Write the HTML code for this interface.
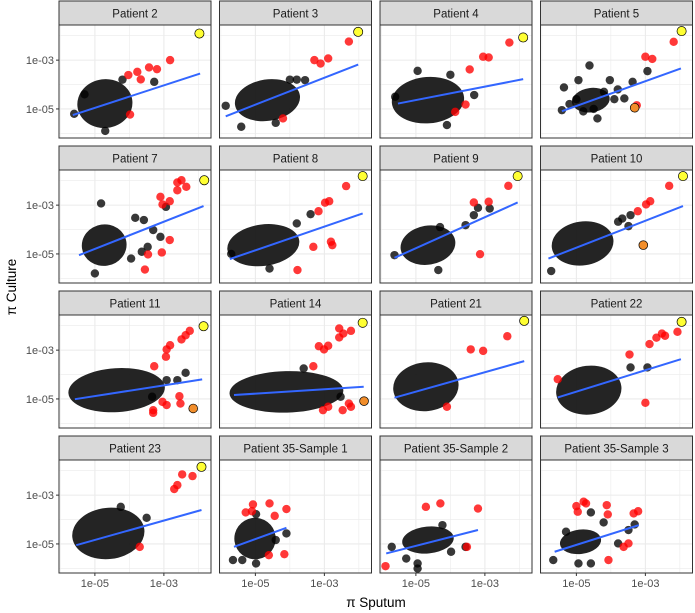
<!DOCTYPE html>
<html><head><meta charset="utf-8"><style>
html,body{margin:0;padding:0;background:#fff;}
svg{display:block;font-family:"Liberation Sans",sans-serif;}
</style></head><body>
<svg id="chart" width="695" height="613" viewBox="0 0 695 613" xmlns="http://www.w3.org/2000/svg"></svg>
<script>
// ---- data (log10 values) ----
const panelTitles = ["Patient 2","Patient 3","Patient 4","Patient 5","Patient 7","Patient 8","Patient 9","Patient 10","Patient 11","Patient 14","Patient 21","Patient 22","Patient 23","Patient 35-Sample 1","Patient 35-Sample 2","Patient 35-Sample 3"];
// dense core of black points: [cx, cy, rx, ry] in log10 units
const clouds = [
[-4.71,-4.78,0.8,1.0],[-4.65,-4.64,0.95,0.85],[-4.65,-4.64,1.05,0.95],[-4.58,-4.64,0.55,0.5],
[-4.73,-4.64,0.65,0.85],[-4.77,-4.64,1.05,0.85],[-4.65,-4.64,0.8,0.8],[-4.82,-4.57,0.9,0.9],
[-4.37,-4.64,1.4,0.9],[-4.10,-4.71,1.65,0.85],[-4.71,-4.50,0.95,1.0],[-4.64,-4.64,0.95,1.0],
[-4.61,-4.57,1.05,1.05],[-5.01,-4.78,0.6,0.85],[-4.65,-4.84,0.75,0.55],[-4.88,-4.91,0.6,0.5]];
const blackPts = [
[[-3.28,-3.89],[-5.6,-5.2],[-4.7,-5.9],[-4.2,-3.8],[-5.3,-4.4]],
[[-5.86,-4.87],[-5.41,-5.73],[-3.56,-3.82],[-4.41,-5.57],[-4.0,-3.8],[-3.8,-3.8]],
[[-4.95,-3.44],[-3.31,-4.43],[-4.10,-5.66],[-5.6,-4.5],[-4.0,-3.6]],
[[-4.62,-3.22],[-2.94,-3.45],[-5.36,-4.12],[-4.94,-3.82],[-4.03,-3.82],[-3.61,-4.57],[-5.42,-5.05],[-4.39,-5.39],[-3.37,-3.89],[-5.0,-4.6],[-4.2,-4.3],[-3.9,-4.6],[-4.8,-5.1],[-5.2,-4.8],[-4.5,-5.0],[-3.8,-4.2]],
[[-4.82,-2.93],[-5.0,-5.80],[-3.83,-3.52],[-3.58,-3.61],[-3.31,-4.02],[-3.10,-4.30],[-2.94,-3.07],[-3.64,-4.91],[-3.95,-5.19],[-3.47,-4.71]],
[[-3.40,-3.37],[-3.80,-3.75],[-4.59,-5.60],[-5.7,-5.0]],
[[-3.32,-3.41],[-3.20,-3.11],[-2.86,-3.14],[-3.56,-3.82],[-4.35,-5.66],[-5.62,-5.05],[-4.3,-3.9]],
[[-3.67,-3.55],[-3.43,-3.41],[-3.49,-3.86],[-3.79,-3.68],[-5.73,-5.70]],
[[-2.37,-3.93],[-2.61,-4.23],[-2.92,-4.23],[-3.34,-4.91]],
[[-3.60,-3.75],[-2.53,-4.91]],
[],
[[-3.43,-3.71],[-2.94,-3.71]],
[[-4.25,-3.48],[-3.50,-3.93]],
[[-5.65,-5.66],[-5.38,-5.66],[-4.98,-5.80],[-4.10,-4.57],[-4.98,-3.78],[-4.41,-4.84]],
[[-5.70,-5.12],[-5.28,-5.60],[-4.95,-5.80],[-4.95,-6.01],[-4.23,-4.23],[-3.56,-5.12],[-3.98,-5.32]],
[[-5.67,-5.66],[-5.30,-4.50],[-4.58,-3.71],[-4.21,-4.12],[-3.79,-4.98],[-3.49,-4.43],[-3.31,-4.20],[-4.58,-5.80],[-4.94,-5.80]]];
const redPts = [
[[-4.03,-3.61],[-3.77,-3.48],[-3.67,-3.79],[-3.43,-3.30],[-3.20,-3.37],[-2.82,-3.0],[-3.98,-5.23]],
[[-3.29,-3.0],[-3.11,-3.14],[-2.89,-2.93],[-2.29,-2.24],[-4.2,-5.39]],
[[-3.44,-3.38],[-3.05,-2.86],[-2.89,-2.89],[-2.29,-2.28],[-3.56,-4.82],[-3.86,-5.12]],
[[-3.0,-2.86],[-2.80,-2.95],[-2.18,-2.25],[-3.25,-4.85]],
[[-3.10,-2.66],[-3.04,-2.97],[-2.83,-2.84],[-2.61,-2.39],[-2.49,-1.98],[-2.35,-2.25],[-2.61,-2.07],[-2.83,-4.43],[-3.46,-5.02],[-3.06,-4.94],[-3.55,-5.64]],
[[-3.17,-3.25],[-2.98,-2.90],[-2.86,-2.84],[-2.37,-2.22],[-3.32,-4.71],[-2.81,-4.50],[-2.77,-4.64],[-3.78,-5.66]],
[[-3.32,-2.89],[-2.89,-2.86],[-2.32,-2.21],[-3.14,-5.01]],
[[-3.22,-3.25],[-2.98,-2.97],[-2.86,-2.84],[-2.31,-2.21]],
[[-3.28,-3.66],[-2.94,-3.27],[-2.92,-2.97],[-2.82,-2.80],[-2.49,-2.56],[-2.37,-2.39],[-2.25,-2.21],[-3.04,-5.12],[-2.92,-5.25],[-2.55,-4.89],[-2.52,-5.19],[-3.31,-5.46],[-3.31,-5.57]],
[[-3.32,-3.66],[-3.16,-2.84],[-3.01,-2.97],[-2.89,-2.82],[-2.57,-2.11],[-2.57,-2.48],[-2.45,-2.32],[-2.23,-2.21],[-3.04,-5.46],[-2.89,-5.32],[-2.47,-5.46],[-2.29,-5.19],[-2.23,-5.32]],
[[-3.41,-2.97],[-3.05,-3.03],[-2.35,-2.43],[-4.10,-5.32]],
[[-5.54,-4.19],[-3.46,-3.18],[-2.88,-2.75],[-2.68,-2.49],[-2.52,-2.32],[-2.43,-2.41],[-2.07,-2.25],[-3.0,-5.16]],
[[-2.70,-2.75],[-2.61,-2.59],[-2.47,-2.15],[-2.17,-2.22],[-3.70,-5.12]],
[[-5.28,-3.71],[-5.07,-3.38],[-5.10,-3.66],[-4.59,-3.34],[-4.44,-3.85],[-4.10,-3.57],[-4.61,-5.46],[-4.16,-5.42]],
[[-5.88,-5.91],[-4.71,-3.48],[-4.29,-3.34],[-3.20,-3.55],[-3.52,-5.12]],
[[-5.0,-3.45],[-4.79,-3.27],[-4.72,-3.34],[-4.96,-3.68],[-4.12,-3.41],[-4.09,-3.79],[-4.07,-5.66],[-3.63,-5.12],[-3.49,-4.98],[-3.34,-3.75],[-3.21,-3.66]]];
const yellowPts = [[-1.97,-1.91],[-2.02,-1.84],[-1.89,-2.07],[-1.95,-1.81],[-1.83,-1.98],[-1.89,-1.81],[-2.05,-1.81],[-1.91,-1.81],[-1.85,-2.02],[-1.89,-1.88],[-1.86,-1.80],[-1.95,-1.84],[-1.91,-1.84],null,null,null];
const orangePts = [null,null,null,[-3.31,-4.95],null,null,null,[-3.06,-4.64],[-2.15,-5.39],[-1.85,-5.09],null,null,null,null,null,null];
// fit lines: [x1, y1, x2, y2] in log10
const fitLines = [
[-5.64,-5.25,-1.95,-3.55],[-5.86,-5.30,-2.02,-3.18],[-5.52,-4.78,-1.89,-3.78],[-5.42,-5.09,-1.97,-3.34],
[-5.46,-5.05,-1.85,-3.04],[-5.74,-5.21,-1.89,-3.34],[-5.62,-5.16,-2.05,-2.89],[-5.81,-5.19,-1.91,-3.04],
[-5.58,-5.01,-1.89,-4.20],[-5.62,-4.84,-1.86,-4.50],[-5.62,-4.95,-1.86,-3.45],[-5.54,-4.94,-1.97,-3.37],
[-5.54,-5.05,-1.91,-3.61],[-5.62,-5.12,-4.10,-4.34],[-5.86,-5.39,-3.20,-4.43],[-5.63,-5.32,-3.19,-4.23]];
const xTickVals = [-5,-3];
const xTickLabels = ["1e-05","1e-03"];
const yTickVals = [-3,-5];
const yTickLabels = ["1e-03","1e-05"];
const gridVals = [-6,-5,-4,-3,-2];

// ---- layout ----
const NS="http://www.w3.org/2000/svg";
const svg=document.getElementById('chart');
const colL=[59,219.5,380,540.5], PW=152, rowT=[1,146,291,436], SH=24, PH=113;
const X0=-6.04, XPD=34.5, Y0=-1.56, YPD=24.4;
const sx=v=>(v-X0)*XPD, sy=v=>(Y0-v)*YPD;
function mk(tag,attrs,parent){const e=document.createElementNS(NS,tag);for(const k in attrs)e.setAttribute(k,attrs[k]);(parent||svg).appendChild(e);return e;}

panelTitles.forEach((t,i)=>{
  const r=Math.floor(i/4),c=i%4, L=colL[c], T=rowT[r];
  const g=mk('g',{transform:`translate(${L},${T+SH})`});
  
  
  const strip=mk('rect',{x:L,y:T,width:PW,height:SH,fill:'#d9d9d9',stroke:'#333',"stroke-width":1});
  
  
  const st=mk('text',{x:L+PW/2,y:T+16.5,"text-anchor":"middle","font-size":"11.5",fill:"#1a1a1a"});
  st.textContent=t;
  
  
  mk('rect',{x:0,y:0,width:PW,height:PH,fill:'#fff'},g);
  const clip='clip'+i;
  const cp=mk('clipPath',{id:clip},g); mk('rect',{x:0,y:0,width:PW,height:PH},cp);
  const inner=mk('g',{"clip-path":`url(#${clip})`},g);
  gridVals.forEach(v=>{
    const major=(v===-5||v===-3);
    const gv=mk('line',{x1:sx(v),x2:sx(v),y1:0,y2:PH,stroke:'#ebebeb',"stroke-width":major?1.1:0.6},inner);
    
    
    const gh=mk('line',{x1:0,x2:PW,y1:sy(v),y2:sy(v),stroke:'#ebebeb',"stroke-width":major?1.1:0.6},inner);
    
    
  });
  const cl=clouds[i];
  const ang=Math.atan2(sy(fitLines[i][3])-sy(fitLines[i][1]),sx(fitLines[i][2])-sx(fitLines[i][0]))*180/Math.PI*0.4;
  const el=mk('ellipse',{cx:sx(cl[0]),cy:sy(cl[1]),rx:cl[2]*XPD,ry:cl[3]*YPD,fill:'#111',"fill-opacity":0.92,transform:`rotate(${ang} ${sx(cl[0])} ${sy(cl[1])})`},inner);
  
  
  blackPts[i].forEach(p=>{
    const d=mk('circle',{cx:sx(p[0]),cy:sy(p[1]),r:4.2,fill:'#000',"fill-opacity":0.78},inner);
    
    
  });
  redPts[i].forEach(p=>{
    const d=mk('circle',{cx:sx(p[0]),cy:sy(p[1]),r:4.2,fill:'#ff0000',"fill-opacity":0.78},inner);
    
    
  });
  const f=fitLines[i];
  const ln=mk('line',{x1:sx(f[0]),y1:sy(f[1]),x2:sx(f[2]),y2:sy(f[3]),stroke:'#3366ff',"stroke-width":2},inner);
  
  
  if(orangePts[i]){const p=orangePts[i];
    const d=mk('circle',{cx:sx(p[0]),cy:sy(p[1]),r:4.4,fill:'#f28e2b',stroke:'#000',"stroke-width":0.7},inner);
    
    }
  if(yellowPts[i]){const p=yellowPts[i];
    const d=mk('circle',{cx:sx(p[0]),cy:sy(p[1]),r:4.6,fill:'#ffff33',stroke:'#000',"stroke-width":0.7},inner);
    
    }
  mk('rect',{x:0,y:0,width:PW,height:PH,fill:'none',stroke:'#333',"stroke-width":1},g);
  if(c===0){
    yTickVals.forEach((v,k)=>{
      mk('line',{x1:L-3,x2:L,y1:T+SH+sy(v),y2:T+SH+sy(v),stroke:'#333'});
      const tl=mk('text',{x:L-5,y:T+SH+sy(v)+4,"text-anchor":"end","font-size":"11",fill:"#4d4d4d"});
      tl.textContent=yTickLabels[k];
      
      
    });
  }
  if(r===3){
    xTickVals.forEach((v,k)=>{
      mk('line',{x1:L+sx(v),x2:L+sx(v),y1:T+SH+PH,y2:T+SH+PH+3,stroke:'#333'});
      const tl=mk('text',{x:L+sx(v),y:T+SH+PH+14,"text-anchor":"middle","font-size":"11",fill:"#4d4d4d"});
      tl.textContent=xTickLabels[k];
      
      
    });
  }
});
const xt=mk('text',{x:376,y:607,"text-anchor":"middle","font-size":"13.5",fill:"#000"});
xt.textContent="π Sputum";


const yt=mk('text',{x:0,y:0,"text-anchor":"middle","font-size":"13.5",fill:"#000",transform:"translate(16,287) rotate(-90)"});
yt.textContent="π Culture";


</script>
</body></html>
